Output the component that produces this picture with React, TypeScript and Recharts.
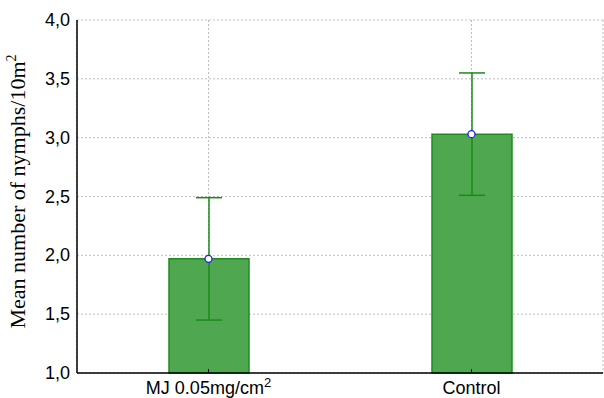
import { ComposedChart, Bar, Line, XAxis, YAxis, CartesianGrid, ErrorBar } from "recharts";

const categories = ["MJ 0.05mg/cm2", "Control"];
const means = [1.97, 3.03];
const errors = [0.52, 0.52];
const yTicks = [1, 1.5, 2, 2.5, 3, 3.5, 4];

const data = categories.map((name, i) => ({ name, mean: means[i], err: errors[i] }));

const SANS = '"Liberation Sans", Arial, Helvetica, sans-serif';
const SERIF = '"Liberation Serif", "Times New Roman", serif';
const fmt = (v: number) => v.toFixed(1).replace(".", ",");

function BottomTick({ x, y, payload }: any) {
  const label = String(payload.value);
  const sup = label.endsWith("cm2");
  return (
    <g>
      <line x1={x} x2={x} y1={y} y2={y - 4} stroke="#000" strokeWidth={1} />
      <text x={x} y={y + 21} textAnchor="middle" fontFamily={SANS} fontSize={18} fill="#000">
        {sup ? (
          <>
            {label.slice(0, -1)}
            <tspan dy={-7} fontSize={13}>2</tspan>
          </>
        ) : (
          label
        )}
      </text>
    </g>
  );
}

function TopTick({ x, y }: any) {
  return <line x1={x} x2={x} y1={y} y2={y + 3} stroke="#000" strokeWidth={1} />;
}

function LeftTick({ x, y, payload }: any) {
  return (
    <text x={x - 7} y={y + 6} textAnchor="end" fontFamily={SANS} fontSize={18} fill="#000">
      {fmt(payload.value)}
    </text>
  );
}

function RightTick({ x, y }: any) {
  return <line x1={x} x2={x - 4} y1={y} y2={y} stroke="#000" strokeWidth={1.2} />;
}

function YLabel({ viewBox }: any) {
  const cy = viewBox.y + viewBox.height / 2 - 5;
  return (
    <text
      x={25}
      y={cy}
      transform={`rotate(-90 25 ${cy})`}
      textAnchor="middle"
      fontFamily={SERIF}
      fontSize={22}
      fill="#000"
    >
      Mean number of nymphs/10m
      <tspan dy={-9} fontSize={14}>2</tspan>
    </text>
  );
}

export default function App() {
  return (
    <div style={{ position: "absolute", left: 0, top: 0, background: "#fff" }}>
      <ComposedChart width={604} height={398} data={data} margin={{ top: 20, right: 1, bottom: 0, left: 0 }}>
        <CartesianGrid stroke="#bdbdbd" strokeDasharray="2 2" />
        <XAxis
          dataKey="name"
          height={25}
          tickSize={0}
          tickMargin={0}
          tick={<BottomTick />}
          axisLine={{ stroke: "#000", strokeWidth: 1.5 }}
          interval={0}
        />
        <XAxis
          xAxisId="top"
          dataKey="name"
          orientation="top"
          height={0}
          tickSize={0}
          tickMargin={0}
          tick={<TopTick />}
          axisLine={{ stroke: "#222", strokeWidth: 1.5 }}
          interval={0}
        />
        <YAxis
          type="number"
          domain={[1, 4]}
          ticks={yTicks}
          width={77}
          tickSize={0}
          tickMargin={0}
          tick={<LeftTick />}
          axisLine={{ stroke: "#000", strokeWidth: 1.5 }}
          label={{ content: <YLabel /> }}
          interval={0}
        />
        <YAxis
          yAxisId="right"
          orientation="right"
          type="number"
          domain={[1, 4]}
          ticks={yTicks}
          width={0}
          tickSize={0}
          tickMargin={0}
          tick={<RightTick />}
          axisLine={{ stroke: "#888", strokeWidth: 1 }}
          interval={0}
        />
        <Bar dataKey="mean" barSize={80} fill="#4fa84f" stroke="#1f8a1f" strokeWidth={1.5} isAnimationActive={false}>
          <ErrorBar dataKey="err" width={13} stroke="#1a8a1a" strokeWidth={1.5} direction="y" />
        </Bar>
        <Line
          dataKey="mean"
          stroke="none"
          dot={{ r: 3.5, fill: "#fff", stroke: "#1f1fff", strokeWidth: 1.3 }}
          activeDot={false}
          isAnimationActive={false}
        />
      </ComposedChart>
    </div>
  );
}
